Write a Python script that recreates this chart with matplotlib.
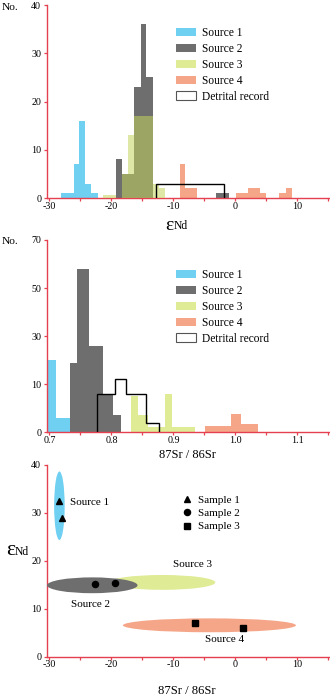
import numpy as np
import matplotlib
matplotlib.use("Agg")
import matplotlib.pyplot as plt
from matplotlib.patches import Ellipse, Patch

plt.rcParams['font.family'] = ['Liberation Serif', 'DejaVu Serif']

# ---------------- data: panel 1 (eNd histograms) ----------------
s1_nd_left = [-28.1, -27.1, -26.1, -25.2, -24.2, -23.3]
s1_nd_right = [-27.1, -26.1, -25.2, -24.2, -23.3, -22.2]
s1_nd_h = [1, 1, 7, 16, 3, 1]

s2_nd_left = [-19.2, -18.3, -17.4, -16.3, -15.2, -14.4, -3.1]
s2_nd_right = [-18.3, -17.4, -16.3, -15.2, -14.4, -13.3, -1.0]
s2_nd_h = [8, 5, 5, 23, 36, 25, 1]

s3_nd_left = [-21.3, -18.3, -17.4, -16.3, -13.3, -12.4]
s3_nd_right = [-19.2, -17.4, -16.3, -13.3, -12.4, -11.3]
s3_nd_h = [0.6, 5, 13, 17, 3, 2]

s4_nd_left = [-9.0, -8.1, 0.1, 2.0, 3.9, 7.1, 8.2]
s4_nd_right = [-8.1, -6.2, 2.0, 3.9, 4.9, 8.2, 9.1]
s4_nd_h = [7, 2, 1, 2, 1, 1, 2]

det_nd_edges = [-12.8, -1.8]
det_nd_h = [3]

# ---------------- data: panel 2 (87Sr/86Sr histograms) ----------------
s1_sr_left = [0.697, 0.710]
s1_sr_right = [0.710, 0.733]
s1_sr_h = [20, 3]

s2_sr_left = [0.733, 0.744, 0.764, 0.787, 0.803]
s2_sr_right = [0.744, 0.764, 0.787, 0.803, 0.816]
s2_sr_h = [19, 58, 26, 8, 3.7]

s3_sr_left = [0.832, 0.843, 0.859, 0.887, 0.897]
s3_sr_right = [0.843, 0.859, 0.887, 0.897, 0.934]
s3_sr_h = [7.5, 3.5, 1, 8, 1]

s4_sr_left = [0.951, 0.993, 1.009]
s4_sr_right = [0.993, 1.009, 1.036]
s4_sr_h = [1.4, 3.8, 1.7]

det_sr_edges = [0.776, 0.805, 0.823, 0.856, 0.877]
det_sr_h = [8, 12, 8, 2]

# ---------------- data: panel 3 (ellipses + samples) ----------------
ell_names = ['Source 1', 'Source 2', 'Source 3', 'Source 4']
ell_cx = [-28.4, -23.1, -11.8, -4.2]
ell_cy = [31.5, 14.9, 15.5, 6.55]
ell_w = [1.7, 14.6, 17.1, 27.9]
ell_h = [14.3, 3.3, 3.1, 2.9]

ell_lab_x = [-26.7, -23.4, -7.0, -1.7]
ell_lab_y = [32.1, 10.8, 19.3, 3.5]

samp1_x = [-28.4, -27.9]
samp1_y = [32.4, 28.9]
samp2_x = [-22.7, -19.4]
samp2_y = [15.2, 15.4]
samp3_x = [-6.5, 1.2]
samp3_y = [7.0, 6.05]

sample_labels = ['Sample 1', 'Sample 2', 'Sample 3']
source_labels = ['Source 1', 'Source 2', 'Source 3', 'Source 4', 'Detrital record']

nd_ticks = [-30, -25, -20, -15, -10, -5, 0, 5, 10, 15]
nd_ticklabels = ['-30', '', '-20', '', '-10', '', '0', '', '10', '']
sr_ticks = [0.70, 0.75, 0.80, 0.85, 0.90, 0.95, 1.00, 1.05, 1.10, 1.15]
sr_ticklabels = ['0.7', '', '0.8', '', '0.9', '', '1.0', '', '1.1', '']

# ---------------- style ----------------
RED = '#e5404f'
C1 = '#6fd0f2'
C2 = '#6e6e6e'
C3_SOLID = '#e0eb96'
C3_ALPHA = '#c4d45c'
C4 = '#f5a688'
TICK_FS = 7.2
LEG_FS = 8.3

W, H = 330, 700
fig = plt.figure(figsize=(W / 100, H / 100), dpi=100)


def add_axes_px(left, top, right, bottom):
    return fig.add_axes([left / W, 1 - bottom / H, (right - left) / W, (bottom - top) / H])


def style_axes(ax):
    for s in ['top', 'right']:
        ax.spines[s].set_visible(False)
    for s in ['left', 'bottom']:
        ax.spines[s].set_color(RED)
        ax.spines[s].set_linewidth(1.0)
    ax.tick_params(axis='both', color=RED, labelcolor='black', labelsize=TICK_FS,
                   length=2.0, width=0.9, direction='out')
    ax.tick_params(axis='x', pad=0.6)
    ax.tick_params(axis='y', pad=2.2)


def bars(ax, left, right, h, **kw):
    left = np.asarray(left)
    right = np.asarray(right)
    ax.bar(left, h, width=right - left, align='edge', linewidth=0, **kw)


def legend_handles():
    return [Patch(facecolor=C1, edgecolor='none'),
            Patch(facecolor=C2, edgecolor='none'),
            Patch(facecolor=C3_SOLID, edgecolor='none'),
            Patch(facecolor=C4, edgecolor='none'),
            Patch(facecolor='white', edgecolor='#555555', linewidth=0.8)]


# ================= panel 1 =================
ax1 = add_axes_px(47, 5, 330, 198)
bars(ax1, s1_nd_left, s1_nd_right, s1_nd_h, color=C1, zorder=2)
bars(ax1, s2_nd_left, s2_nd_right, s2_nd_h, color=C2, zorder=2)
bars(ax1, s3_nd_left, s3_nd_right, s3_nd_h, color=C3_ALPHA, alpha=0.55, zorder=3)
bars(ax1, s4_nd_left, s4_nd_right, s4_nd_h, color=C4, zorder=2)
ax1.stairs(det_nd_h, det_nd_edges, baseline=0, fill=False, color='black', linewidth=1.0, zorder=4)
ax1.set_xlim(-30.4, 15.25)
ax1.set_ylim(0, 40)
ax1.set_xticks(nd_ticks)
ax1.set_xticklabels(nd_ticklabels)
ax1.set_yticks([0, 10, 20, 30, 40])
style_axes(ax1)
ax1.legend(legend_handles(), source_labels, loc='upper left',
           bbox_to_anchor=((175.7 - 47) / 283, (198 - 27.3) / 193),
           frameon=False, fontsize=LEG_FS, borderpad=0, borderaxespad=0,
           handlelength=1.74, handleheight=0.7, handletextpad=0.5, labelspacing=0.33)
fig.text(2 / W, 1 - 8 / H, 'No.', fontsize=8.2, ha='left', va='center')
fig.text(173.5 / W, 1 - 229.5 / H, 'ε', fontsize=14, ha='right', va='baseline')
fig.text(173.5 / W, 1 - 229 / H, 'Nd', fontsize=8.4, ha='left', va='baseline')

# ================= panel 2 =================
def fwd(y):
    y = np.asarray(y, dtype=float)
    return np.where(y <= 10, y, 10 + (y - 10) * 0.5)


def inv(y):
    y = np.asarray(y, dtype=float)
    return np.where(y <= 10, y, 10 + (y - 10) * 2.0)


ax2 = add_axes_px(47, 240, 330, 432.3)
ax2.set_yscale('function', functions=(fwd, inv))
bars(ax2, s1_sr_left, s1_sr_right, s1_sr_h, color=C1, zorder=2)
bars(ax2, s2_sr_left, s2_sr_right, s2_sr_h, color=C2, zorder=2)
bars(ax2, s3_sr_left, s3_sr_right, s3_sr_h, color=C3_SOLID, zorder=2)
bars(ax2, s4_sr_left, s4_sr_right, s4_sr_h, color=C4, zorder=2)
ax2.stairs(det_sr_h, det_sr_edges, baseline=0, fill=False, color='black', linewidth=1.0, zorder=4)
ax2.set_xlim(0.696, 1.1525)
ax2.set_ylim(0, 70)
ax2.set_xticks(sr_ticks)
ax2.set_xticklabels(sr_ticklabels)
ax2.set_yticks([0, 10, 30, 50, 70])
ax2.set_yticklabels(['0', '10', '30', '50', '70'])
ax2.yaxis.set_minor_locator(matplotlib.ticker.NullLocator())
style_axes(ax2)
ax2.legend(legend_handles(), source_labels, loc='upper left',
           bbox_to_anchor=((175.7 - 47) / 283, (432.3 - 269.3) / 192.3),
           frameon=False, fontsize=LEG_FS, borderpad=0, borderaxespad=0,
           handlelength=1.74, handleheight=0.7, handletextpad=0.5, labelspacing=0.33)
fig.text(2 / W, 1 - 241 / H, 'No.', fontsize=8.2, ha='left', va='center')
fig.text(187 / W, 1 - 458.5 / H, '87Sr / 86Sr', fontsize=8.9, ha='center', va='baseline')

# ================= panel 3 =================
ax3 = add_axes_px(47, 465, 330, 656.7)
ell_colors = [C1, C2, C3_SOLID, C4]
ell_z = [2, 3, 2, 2]
for cx, cy, w, h, c, z in zip(ell_cx, ell_cy, ell_w, ell_h, ell_colors, ell_z):
    ax3.add_patch(Ellipse((cx, cy), w, h, facecolor=c, edgecolor='none', zorder=z))
for name, x, y in zip(ell_names, ell_lab_x, ell_lab_y):
    ha = 'left' if name == 'Source 1' else 'center'
    ax3.text(x, y, name, fontsize=8, ha=ha, va='center', zorder=5)
ax3.plot(samp1_x, samp1_y, '^', color='black', ms=4.6, zorder=6, label=sample_labels[0])
ax3.plot(samp2_x, samp2_y, 'o', color='black', ms=4.4, zorder=6, label=sample_labels[1])
ax3.plot(samp3_x, samp3_y, 's', color='black', ms=3.8, zorder=6, label=sample_labels[2])
ax3.set_xlim(-30.4, 15.25)
ax3.set_ylim(0, 40)
ax3.set_xticks(nd_ticks)
ax3.set_xticklabels(nd_ticklabels)
ax3.set_yticks([0, 10, 20, 30, 40])
style_axes(ax3)
ax3.legend(loc='upper left', bbox_to_anchor=((181 - 47) / 283, (656.7 - 495) / 191.7),
           frameon=False, fontsize=8, borderpad=0, borderaxespad=0, numpoints=1,
           handlelength=1.0, handletextpad=0.5, labelspacing=0.32)
fig.text(15 / W, 1 - 555 / H, 'ε', fontsize=15.5, ha='right', va='baseline')
fig.text(15 / W, 1 - 555 / H, 'Nd', fontsize=8.4, ha='left', va='baseline')
fig.text(187 / W, 1 - 694.5 / H, '87Sr / 86Sr', fontsize=9.1, ha='center', va='baseline')

fig.savefig('out.png', dpi=100)
